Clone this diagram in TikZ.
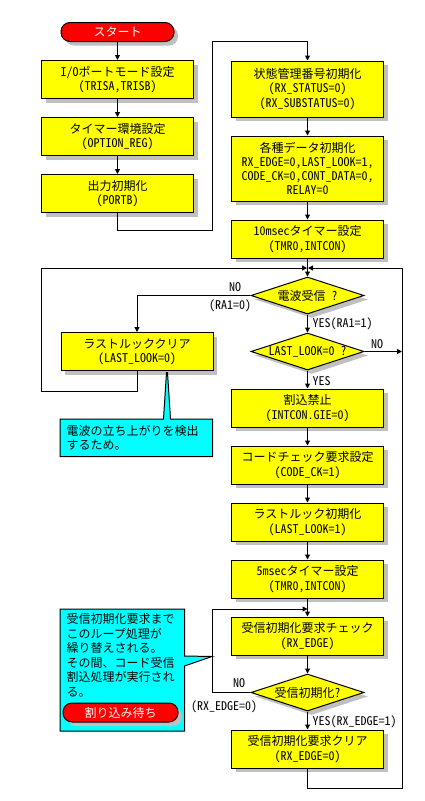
\documentclass[tikz,border=0pt]{standalone}
\usepackage{fontspec}
\setmainfont{Noto Sans CJK JP}
\newfontfamily\hwfont{Noto Sans CJK JP}[RawFeature=+hwid]
\newcommand{\hw}[1]{{\hwfont #1}}
\usetikzlibrary{arrows.meta,
                positioning,
                shapes.geometric,
                shadows}
\definecolor{boxyellow}{RGB}{255,255,0}
\definecolor{noteblue}{RGB}{0,255,255}
\definecolor{termred}{RGB}{255,0,0}
\definecolor{shade}{RGB}{192,192,192}
\tikzstyle{boxshadow} = [drop shadow={shadow xshift=4pt, shadow yshift=-4pt, fill=shade, opacity=1}]
\tikzstyle{proc} = [draw, fill=boxyellow, boxshadow, minimum width=152pt, minimum height=38pt, inner sep=1pt, align=center]
\tikzstyle{term} = [draw, fill=termred, text=white, boxshadow, rounded corners=9pt, minimum width=113pt, minimum height=19pt, inner sep=0pt]
\tikzstyle{test} = [draw, fill=boxyellow, boxshadow, diamond, aspect=3, inner sep=-4pt, minimum width=113pt, minimum height=37pt]
\tikzstyle{lbl} = [inner sep=0pt]
\tikzstyle{arrow} = [->,>={Triangle[length=5pt,width=5pt]}]

\begin{document}
\begin{tikzpicture}[x=1pt, y=-1pt, line width=1pt, node distance=18pt,
                    font=\fontsize{12pt}{14.3pt}\selectfont]
    \useasboundingbox[fill=white] (0,0) rectangle (424,801);

    % left column
    \node[term] (start) at (117.5,32) {スタート};
    \node[proc] (s1) [below=of start] {\hw{I/O}ポートモード設定\\\hw{(TRISA,TRISB)}};
    \node[proc] (s2) [below=of s1] {タイマー環境設定\\\hw{(OPTION\_REG)}};
    \node[proc] (s3) [below=of s2] {出力初期化\\\hw{(PORTB)}};

    % right column
    \node[proc, minimum height=56pt] (r1) at (307.5,89) {状態管理番号初期化\\\hw{(RX\_STATUS=0)}\\\hw{(RX\_SUBSTATUS=0)}};
    \node[proc, minimum height=65pt] (r2) [below=of r1] {各種データ初期化\\\hw{RX\_EDGE=0,LAST\_LOOK=1,}\\\hw{CODE\_CK=0,CONT\_DATA=0,}\\\hw{RELAY=0}};
    \node[proc] (r3) [below=of r2] {\hw{10msec}タイマー設定\\\hw{(TMR0,INTCON)}};
    \node[test] (d1) [below=of r3] {電波受信\hspace{6pt}\hw{?}};
    \node[test] (d2) [below=of d1] {\hw{LAST\_LOOK=0\hspace{6pt}?}};
    \node[proc] (llc) [left=37pt of d2] {ラストルッククリア\\\hw{(LAST\_LOOK=0)}};
    \node[proc] (r4) [below=of d2] {割込禁止\\\hw{(INTCON.GIE=0)}};
    \node[proc] (r5) [below=of r4] {コードチェック要求設定\\\hw{(CODE\_CK=1)}};
    \node[proc] (r6) [below=of r5] {ラストルック初期化\\\hw{(LAST\_LOOK=1)}};
    \node[proc] (r7) [below=of r6] {\hw{5msec}タイマー設定\\\hw{(TMR0,INTCON)}};
    \node[proc] (r8) [below=of r7] {受信初期化要求チェック\\\hw{(RX\_EDGE)}};
    \node[test] (d3) [below=of r8] {受信初期化\hw{?}};
    \node[proc] (r9) [below=of d3] {受信初期化要求クリア\\\hw{(RX\_EDGE=0)}};

    % labels
    \node[lbl] (no1) at (235,287) {\hw{NO}};
    \node[lbl] (ra0) at (230,306) {\hw{(RA1=0)}};
    \node[lbl, anchor=west] (yes1) at (312,324) {\hw{YES(RA1=1)}};
    \node[lbl] (no2) at (377,344) {\hw{NO}};
    \node[lbl, anchor=west] (yes2) at (312,381) {\hw{YES}};
    \node[lbl] (no3) at (239,683) {\hw{NO}};
    \node[lbl] (rx0) at (224,707) {\hw{(RX\_EDGE=0)}};
    \node[lbl, anchor=west] (yes3) at (312,722) {\hw{YES(RX\_EDGE=1)}};

    % corners of the connectors
    \coordinate (t1) at (212,230);
    \coordinate (t2) at (212,41);
    \coordinate (j1) at (307.5,268);
    \coordinate (c1) at (41,391);
    \coordinate (c2) at (41,268);
    \coordinate (c3) at (402,788);
    \coordinate (c4) at (402,268);
    \coordinate (j2) at (307.5,609);
    \coordinate (c5) at (212,609);

    \draw [arrow] (start) -- (s1);
    \draw [arrow] (s1) -- (s2);
    \draw [arrow] (s2) -- (s3);
    \draw [arrow] (s3) |- (t1) -- (t2) -| (r1);
    \draw [arrow] (r1) -- (r2);
    \draw [arrow] (r2) -- (r3);
    \draw [arrow] (r3) -- (d1);
    \draw [arrow] (d1) -| (llc);
    \draw [arrow, shorten >=0.5pt] (llc) |- (c1) -- (c2) -- (j1);
    \draw [arrow] (d1) -- (d2);
    \draw [arrow] (d2) -- (d2 -| c4);
    \draw [arrow] (d2) -- (r4);
    \draw [arrow] (r4) -- (r5);
    \draw [arrow] (r5) -- (r6);
    \draw [arrow] (r6) -- (r7);
    \draw [arrow] (r7) -- (r8);
    \draw [arrow] (r8) -- (d3);
    \draw [arrow] (d3) -| (c5) -- (j2);
    \draw [arrow] (d3) -- (r9);
    \draw [arrow, shorten >=0.5pt] (r9) |- (c3) -- (c4) -- (j1);

    % notes
    \draw[fill=noteblue] (60,419) -- (163.5,419) -- (166.5,372.5) -- (167.5,372.5) -- (170.5,419)
        -- (212.5,419) -- (212.5,456.5) -- (60,456.5) -- cycle;
    \node[lbl, anchor=north west, align=left] (note1) at (66,424.5) {電波の立ち上がりを検出\\するため。};

    \draw[fill=noteblue] (60,609) -- (184.5,609) -- (184.5,656) -- (212,656.5) -- (184.5,666)
        -- (184.5,731) -- (60,731) -- cycle;
    \node[lbl, anchor=north west, align=left, font=\fontsize{12pt}{14.5pt}\selectfont] (note2) at (66,613)
        {受信初期化要求まで\\このループ処理が\\繰り替えされる。\\その間、コード受信\\割込処理が実行され\\る。};
    \node[term, minimum width=115pt] (wait) at (120.5,712.5) {割り込み待ち};
\end{tikzpicture}
\end{document}
